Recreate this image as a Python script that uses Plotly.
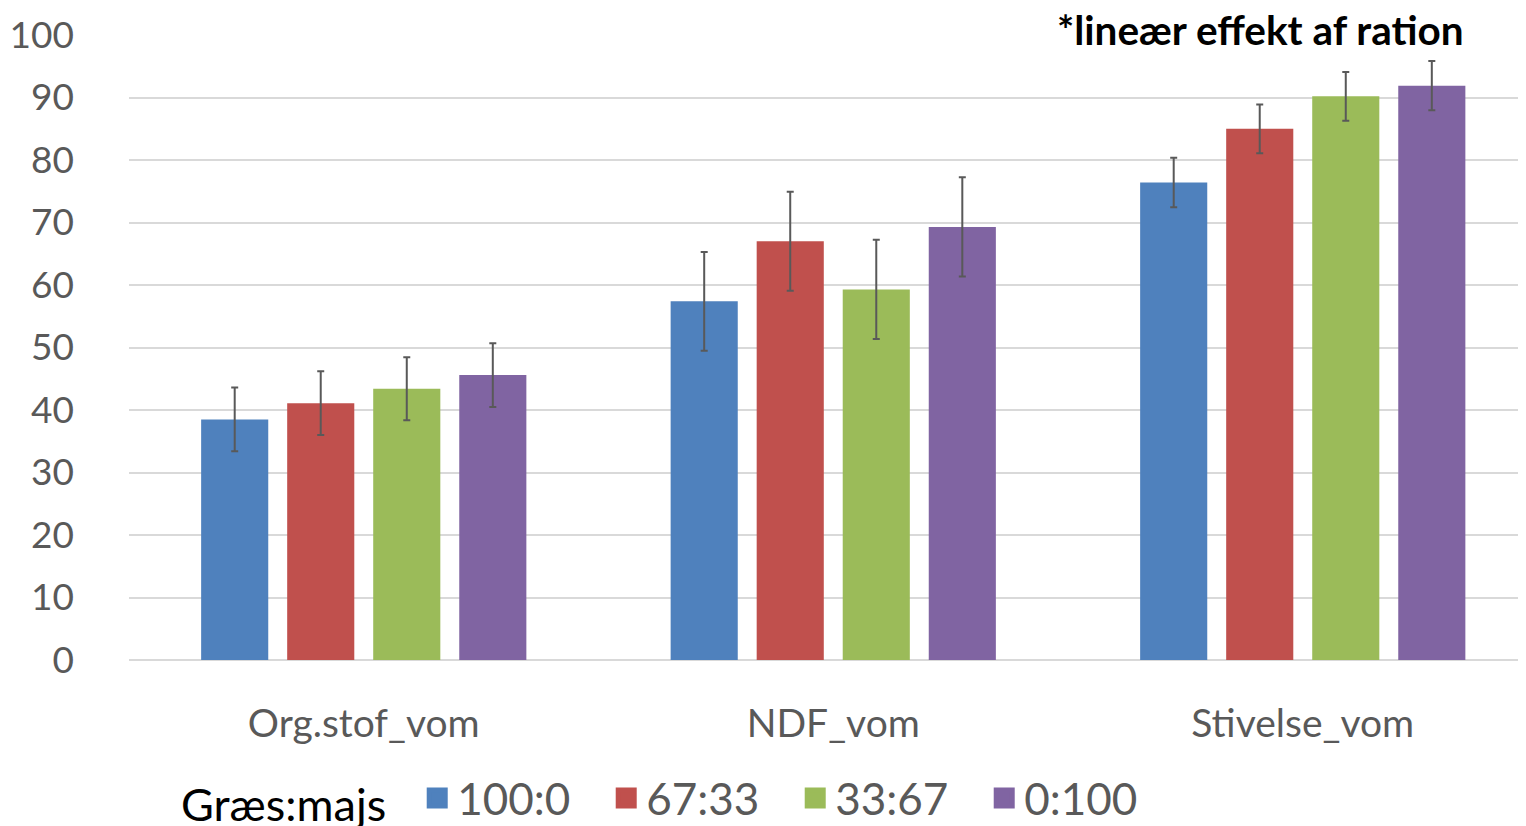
import plotly.graph_objects as go

categories = ["Org.stof_vom", "NDF_vom", "Stivelse_vom"]
series_names = ["100:0", "67:33", "33:67", "0:100"]
values_100_0 = [38.5, 57.4, 76.4]
values_67_33 = [41.1, 67.0, 85.0]
values_33_67 = [43.4, 59.3, 90.2]
values_0_100 = [45.6, 69.3, 91.9]
err_100_0 = [5.1, 7.9, 3.95]
err_67_33 = [5.1, 7.9, 3.9]
err_33_67 = [5.05, 7.95, 3.9]
err_0_100 = [5.1, 7.95, 3.95]
colors = ["#4F81BD", "#C0504D", "#9BBB59", "#8064A2"]
y_ticks = [0, 10, 20, 30, 40, 50, 60, 70, 80, 90, 100]

all_vals = [values_100_0, values_67_33, values_33_67, values_0_100]
all_errs = [err_100_0, err_67_33, err_33_67, err_0_100]

FONT = "Lato"
fig = go.Figure()
for name, vals, errs, col in zip(series_names, all_vals, all_errs, colors):
    fig.add_trace(go.Bar(
        x=categories, y=vals, name=name, legendgroup=name, showlegend=False,
        marker=dict(color=col, line=dict(width=0)),
        error_y=dict(type="data", array=errs, visible=True,
                     color="#595959", thickness=2, width=3.5),
    ))
# legend-only entries (larger square swatches, linked to the bars)
for name, col in zip(series_names, colors):
    fig.add_trace(go.Scatter(
        x=[None], y=[None], mode="markers", name=name, legendgroup=name,
        marker=dict(symbol="square", size=16, color=col, line=dict(color=col, width=5)),
    ))

fig.update_layout(
    width=1518, height=818,
    margin=dict(l=121, r=0, t=27, b=166, autoexpand=False),
    paper_bgcolor="white", plot_bgcolor="white",
    barmode="group", bargap=0.267, bargroupgap=0.22,
    font=dict(family=FONT, color="#595959", size=37),
    showlegend=True,
    legend=dict(
        orientation="h", x=0.0358, xanchor="left", y=-0.2215, yanchor="middle",
        title=dict(text="Græs:majs  ", font=dict(color="black", size=45, family=FONT)),
        font=dict(size=44, color="#595959", family=FONT),
        entrywidth=144, entrywidthmode="pixels",
        itemwidth=30, traceorder="normal",
    ),
    xaxis=dict(showgrid=False, showline=False, ticks="", ticklabelstandoff=37,
               range=[-0.5, 2.4755], automargin=False,
               tickfont=dict(size=39, color="#595959")),
    yaxis=dict(range=[0, 100], tickvals=y_ticks, showgrid=True, gridcolor="#D9D9D9",
               gridwidth=2, zeroline=True, zerolinecolor="#D9D9D9", zerolinewidth=2,
               showline=False, ticks="", ticklabelstandoff=54, automargin=False,
               tickfont=dict(size=37, color="#595959")),
    annotations=[dict(
        text="<b>*lineær effekt af ration</b>", xref="paper", yref="paper",
        x=0.957, y=1.009, xanchor="right", yanchor="middle", showarrow=False,
        font=dict(size=40.5, color="black", family=FONT),
    )],
)

fig.write_html("out.html")
